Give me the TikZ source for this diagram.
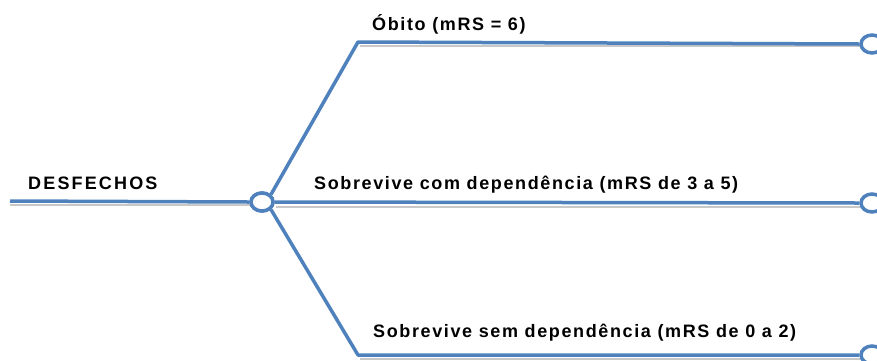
\documentclass[tikz,border=0pt]{standalone}
\usepackage{fontspec}
\usetikzlibrary{shapes.geometric}
\setmainfont{Liberation Sans}[LetterSpace=9]
\newfontfamily\widefont{Liberation Sans}[LetterSpace=12]
\definecolor{branch}{HTML}{4F81BD}
\definecolor{shade}{HTML}{C8C8C8}
\begin{document}
\begin{tikzpicture}[x=1pt,y=-1pt,
  lbl/.style={font=\fontsize{18}{20}\selectfont\bfseries, anchor=base west, inner sep=0pt},
  wire/.style={draw=branch, line width=3.5pt, line join=round},
  shadow/.style={draw=shade, line width=2pt},
  knot/.style={ellipse, draw=branch, line width=3.5pt, fill=white, minimum width=22pt, minimum height=18pt, inner sep=0pt}]
\useasboundingbox (0,0) rectangle (877,360);
\coordinate (start) at (10,201);
\coordinate (up) at (358,42);
\coordinate (down) at (358,355);
\draw[shadow] (10,204.5) -- (250,204.5);
\draw[shadow] (360,45.5) -- (860,45.5);
\draw[shadow] (276,206.5) -- (860,206.5);
\draw[shadow] (360,358.5) -- (860,358.5);
\node[knot] (hub) at (262,202) {};
\node[knot] (e1) at (872,44) {};
\node[knot] (e2) at (872,203) {};
\node[knot] (e3) at (872,355) {};
\draw[wire] (start) -- (hub.west);
\draw[wire] (hub.north east) -- (up) -- (e1.west);
\draw[wire] (hub.east) -- (e2.west);
\draw[wire] (hub.south east) -- (down) -- (e3.west);
\node[knot] at (hub) {};
\node[lbl, font=\fontsize{18}{20}\selectfont\widefont\bfseries] (t0) at (28,189) {DESFECHOS};
\node[lbl] (t1) at (372,30) {Óbito (mRS = 6)};
\node[lbl] (t2) at (314,189) {Sobrevive com dependência (mRS de 3 a 5)};
\node[lbl] (t3) at (373,337) {Sobrevive sem dependência (mRS de 0 a 2)};
\end{tikzpicture}
\end{document}
